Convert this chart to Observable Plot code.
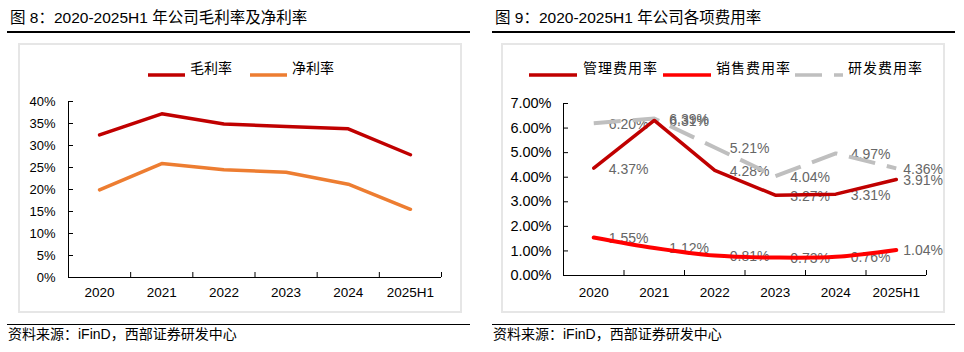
<!DOCTYPE html>
<html><head><meta charset="utf-8">
<script src="https://cdn.jsdelivr.net/npm/d3@7"></script>
<script src="https://cdn.jsdelivr.net/npm/@observablehq/plot@0.6"></script>
<style>
body{margin:0;background:#fff;}
#root{position:relative;width:964px;height:352px;overflow:hidden;font-family:"Liberation Sans",Arial,"Noto Sans CJK SC",sans-serif;color:#000;background:#fff;}
.abs{position:absolute;}
.title{font-size:15.5px;white-space:nowrap;line-height:16px;}
.rule{height:1.5px;background:#000;}
.box{border:2px solid #e6e6e6;box-sizing:border-box;}
.src{font-size:14px;white-space:nowrap;line-height:14px;}
.lg{font-family:"Noto Sans CJK SC",sans-serif;font-size:14px;line-height:14px;white-space:nowrap;}
.chart svg{display:block;}
</style></head>
<body><div id="root"></div>
<script>
// ---- data ----
const years = ["2020", "2021", "2022", "2023", "2024", "2025H1"];
const grossMargin = [32.4, 37.2, 34.9, 34.3, 33.8, 27.9];   // 毛利率 %
const netMargin   = [19.9, 25.9, 24.5, 23.9, 21.2, 15.5];   // 净利率 %
const mgmtRate  = [4.37, 6.31, 4.28, 3.27, 3.31, 3.91];     // 管理费用率 %
const salesRate = [1.55, 1.12, 0.81, 0.73, 0.76, 1.04];     // 销售费用率 %
const rdRate    = [6.20, 6.39, 5.21, 4.04, 4.97, 4.36];     // 研发费用率 %
const leftYTicks  = [0, 5, 10, 15, 20, 25, 30, 35, 40];
const rightYTicks = [0, 1, 2, 3, 4, 5, 6, 7];
const leftTitle  = "图 8：2020-2025H1 年公司毛利率及净利率";
const rightTitle = "图 9：2020-2025H1 年公司各项费用率";
const sourceText = "资料来源：iFinD，西部证券研发中心";
const leftSeries  = [{name: "毛利率", color: "#C00000"}, {name: "净利率", color: "#ED7D31"}];
const rightSeries = [{name: "管理费用率", color: "#C00000"}, {name: "销售费用率", color: "#FF0000"}, {name: "研发费用率", color: "#BFBFBF", dash: "27,12"}];

const root = document.getElementById("root");
function el(cls, css, text) {
  const d = document.createElement("div");
  d.className = "abs " + cls;
  Object.assign(d.style, css);
  if (text != null) d.textContent = text;
  root.appendChild(d);
  return d;
}
function sample(x, y, w, color, dash) {
  const d = el("", {left: x + "px", top: (y - 3) + "px", width: w + "px", height: "6px"});
  d.innerHTML = `<svg width="${w}" height="6"><line x1="0" x2="${w}" y1="3" y2="3" stroke="${color}" stroke-width="3.5" ${dash ? `stroke-dasharray="${dash}"` : ""}/></svg>`;
}

// panel frames
el("title", {left: "10px", top: "10px"}, leftTitle);
el("title", {left: "495px", top: "10px"}, rightTitle);
el("rule", {left: "7px", top: "31px", width: "463px"});
el("rule", {left: "492px", top: "31px", width: "463px"});
el("box", {left: "18px", top: "43px", width: "444px", height: "270px"});
el("box", {left: "501px", top: "43px", width: "444px", height: "270px"});
el("rule", {left: "7px", top: "323.5px", width: "463px"});
el("rule", {left: "492px", top: "323.5px", width: "463px"});
el("src", {left: "8px", top: "327px"}, sourceText);
el("src", {left: "493px", top: "327px"}, sourceText);

// legends
const lgY = 67;
[[148, 190], [250, 292]].forEach(([sx, tx], i) => {
  sample(sx, lgY, 37, leftSeries[i].color);
  el("lg", {left: tx + "px", top: (lgY - 7.5) + "px"}, leftSeries[i].name);
});
[[529, 583], [663, 716], [795, 848]].forEach(([sx, tx], i) => {
  sample(sx, lgY, 48, rightSeries[i].color, rightSeries[i].dash);
  el("lg", {left: tx + "px", top: (lgY - 7.5) + "px", letterSpacing: "1px"}, rightSeries[i].name);
});

const rows = vals => vals.map((v, i) => ({x: i + 0.5, v, year: years[i], last: i === vals.length - 1}));
const style = {fontFamily: '"Liberation Sans", Arial, sans-serif', fontSize: "13.5px", color: "#000", background: "transparent", overflow: "visible"};
const catTicks = d3.range(years.length + 1);
const catCenters = d3.range(years.length).map(i => i + 0.5);

const left = Plot.plot({
  width: 482, height: 225,
  marginLeft: 68, marginRight: 41, marginTop: 16, marginBottom: 33,
  x: {domain: [0, years.length], label: null},
  y: {domain: [0, 40], label: null},
  style,
  marks: [
    Plot.axisY(leftYTicks, {tickSize: -5, tickPadding: 18, tickFormat: d => d + "%", fontSize: 13, label: null}),
    Plot.axisX(catTicks, {tickSize: -5, tickFormat: () => "", label: null}),
    Plot.axisX(catCenters, {tickSize: 0, tickPadding: 10, tickFormat: v => years[Math.floor(v)], label: null}),
    Plot.ruleX([0], {stroke: "#000"}),
    Plot.ruleY([0], {stroke: "#000"}),
    Plot.line(rows(grossMargin), {x: "x", y: "v", stroke: leftSeries[0].color, strokeWidth: 3.5}),
    Plot.line(rows(netMargin), {x: "x", y: "v", stroke: leftSeries[1].color, strokeWidth: 3.5})
  ]
});

const allLabels = [...rows(mgmtRate), ...rows(salesRate), ...rows(rdRate)];
const right = Plot.plot({
  width: 482, height: 225,
  marginLeft: 81, marginRight: 38, marginTop: 18, marginBottom: 35,
  x: {domain: [0, years.length], label: null},
  y: {domain: [0, 7], label: null},
  style,
  marks: [
    Plot.axisY(rightYTicks, {tickSize: -5, tickPadding: 17, tickFormat: d => d.toFixed(2) + "%", fontSize: 14.5, label: null}),
    Plot.axisX(catTicks, {tickSize: -5, tickFormat: () => "", label: null}),
    Plot.axisX(catCenters, {tickSize: 0, tickPadding: 12, tickFormat: v => years[Math.floor(v)], label: null}),
    Plot.ruleX([0], {stroke: "#000"}),
    Plot.ruleY([0], {stroke: "#000"}),
    Plot.text(allLabels.filter(d => !d.last), {x: "x", y: "v", text: d => d.v.toFixed(2) + "%", textAnchor: "start", dx: 15, dy: 1, fill: "#666", fontSize: 14}),
    Plot.text(allLabels.filter(d => d.last), {x: "x", y: "v", text: d => d.v.toFixed(2) + "%", textAnchor: "start", dx: 7, dy: 1, fill: "#666", fontSize: 14}),
    Plot.line(rows(rdRate), {x: "x", y: "v", stroke: rightSeries[2].color, strokeWidth: 4, strokeDasharray: rightSeries[2].dash, strokeLinecap: "butt"}),
    Plot.line(rows(mgmtRate), {x: "x", y: "v", stroke: rightSeries[0].color, strokeWidth: 3.5}),
    Plot.line(rows(salesRate), {x: "x", y: "v", stroke: rightSeries[1].color, strokeWidth: 4, curve: "catmull-rom"})
  ]
});

const lc = el("chart", {left: "0px", top: "85px", width: "482px", height: "225px"});
lc.appendChild(left);
const rc = el("chart", {left: "482px", top: "85px", width: "482px", height: "225px"});
rc.appendChild(right);
</script></body></html>
